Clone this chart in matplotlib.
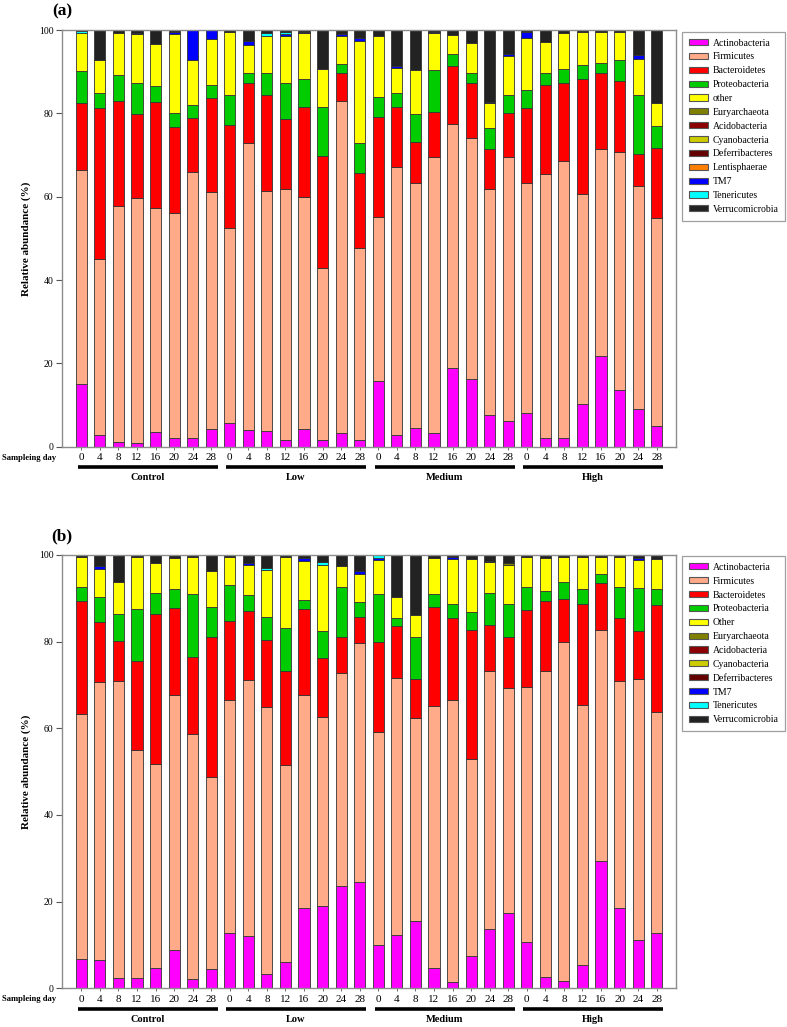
import numpy as np
import matplotlib
matplotlib.use("Agg")
import matplotlib.pyplot as plt
from matplotlib.patches import Patch

plt.rcParams['font.family'] = ['Liberation Serif', 'DejaVu Serif']

days = ["0", "4", "8", "12", "16", "20", "24", "28"]
groups = ["Control", "Low", "Medium", "High"]

# ---------------- panel (a) ----------------
a_act = [15.0, 2.8, 1.2, 1.0, 3.6, 2.2, 2.2, 4.2,
         5.6, 4.0, 3.7, 1.6, 4.2, 1.6, 3.2, 1.6,
         15.8, 2.7, 4.6, 3.2, 18.8, 16.2, 7.6, 6.2,
         8.2, 2.2, 2.2, 10.2, 21.8, 13.6, 9.0, 5.0]
a_firm = [51.4, 42.3, 56.6, 58.6, 53.7, 54.0, 63.7, 57.0,
          46.8, 69.0, 57.7, 60.3, 55.8, 41.4, 79.7, 46.2,
          39.4, 64.5, 58.8, 66.4, 58.6, 58.0, 54.2, 63.4,
          55.2, 63.2, 66.4, 50.5, 49.6, 57.2, 53.6, 50.0]
a_bact = [16.0, 36.3, 25.2, 20.2, 25.5, 20.6, 13.1, 22.4,
          24.7, 14.4, 23.0, 16.7, 21.6, 26.8, 6.7, 17.8,
          24.0, 14.4, 9.8, 10.8, 14.0, 13.2, 9.6, 10.4,
          17.8, 21.4, 18.8, 27.5, 18.2, 17.0, 7.6, 16.8]
a_prot = [7.8, 3.6, 6.2, 7.6, 3.8, 3.2, 2.9, 3.2,
          7.2, 2.4, 5.2, 8.8, 6.6, 11.8, 2.2, 7.2,
          4.8, 3.2, 6.6, 10.0, 2.8, 2.2, 5.0, 4.4,
          4.4, 2.8, 3.2, 3.4, 2.6, 5.0, 14.1, 5.2]
a_other = [9.0, 7.7, 10.0, 11.6, 10.0, 19.0, 10.9, 11.0,
           15.3, 6.5, 9.0, 11.2, 11.0, 9.0, 6.7, 24.6,
           14.6, 6.2, 10.6, 8.8, 4.7, 7.4, 6.0, 9.4,
           12.6, 7.6, 8.8, 8.0, 7.4, 6.8, 8.7, 5.6]
a_eury = [0.0] * 32
a_acido = [0.0] * 32
a_cyano = [0.0] * 32
a_defer = [0.0] * 32
a_lenti = [0.0] * 32
a_tm7 = [0.0, 0.0, 0.0, 0.4, 0.0, 0.6, 7.2, 2.2,
         0.0, 1.1, 0.0, 0.5, 0.4, 0.0, 0.5, 0.8,
         0.0, 0.3, 0.0, 0.4, 0.0, 0.0, 0.4, 0.4,
         1.4, 0.0, 0.0, 0.0, 0.0, 0.0, 0.9, 0.0]
a_tene = [0.5, 0.0, 0.0, 0.0, 0.0, 0.0, 0.0, 0.0,
          0.0, 0.0, 0.8, 0.4, 0.0, 0.0, 0.0, 0.0,
          0.0, 0.0, 0.0, 0.0, 0.0, 0.0, 0.0, 0.0,
          0.0, 0.0, 0.0, 0.0, 0.0, 0.0, 0.0, 0.0]
a_verr = [0.3, 7.3, 0.8, 0.6, 3.4, 0.4, 0.0, 0.0,
          0.4, 2.6, 0.6, 0.5, 0.4, 9.4, 1.0, 1.8,
          1.4, 8.7, 9.6, 0.4, 1.1, 3.0, 17.2, 5.8,
          0.4, 2.8, 0.6, 0.4, 0.4, 0.4, 6.1, 17.4]

# ---------------- panel (b) ----------------
b_act = [6.8, 6.5, 2.4, 2.4, 4.6, 8.8, 2.1, 4.4,
         12.7, 12.1, 3.4, 6.0, 18.6, 19.0, 23.5, 24.5,
         10.0, 12.2, 15.6, 4.6, 1.5, 7.5, 13.8, 17.3,
         10.6, 2.5, 1.6, 5.4, 29.4, 18.6, 11.2, 12.7]
b_firm = [56.5, 64.2, 68.6, 52.6, 47.2, 59.0, 56.7, 44.4,
          53.8, 59.1, 61.6, 45.6, 49.0, 43.7, 49.2, 55.3,
          49.2, 59.3, 46.7, 60.6, 65.0, 45.4, 59.5, 52.0,
          59.0, 70.8, 78.4, 60.0, 53.4, 52.4, 60.2, 51.0]
b_bact = [26.1, 13.9, 9.2, 20.6, 34.6, 19.9, 17.6, 32.2,
          18.2, 15.8, 15.4, 21.6, 19.9, 13.5, 8.4, 6.0,
          20.7, 12.1, 9.0, 22.9, 18.9, 29.8, 10.5, 11.7,
          17.6, 16.1, 9.9, 23.2, 10.7, 14.4, 11.1, 24.8]
b_prot = [3.1, 5.6, 6.2, 11.9, 4.8, 4.5, 14.6, 7.1,
          8.4, 3.8, 5.3, 10.0, 2.0, 6.3, 11.6, 3.4,
          11.1, 1.8, 9.7, 2.9, 3.4, 4.1, 7.5, 7.7,
          5.3, 2.2, 3.9, 3.5, 2.0, 7.1, 9.9, 3.7]
b_other = [7.0, 6.6, 7.3, 12.0, 7.0, 7.1, 8.5, 8.1,
           6.5, 6.9, 10.8, 16.4, 9.1, 15.2, 4.8, 6.4,
           7.8, 4.8, 5.2, 8.4, 10.3, 12.3, 7.0, 9.0,
           7.0, 7.8, 5.8, 7.5, 4.1, 7.1, 6.4, 6.8]
b_eury = [0.0] * 23 + [0.4] + [0.0] * 8
b_acido = [0.0] * 32
b_cyano = [0.0] * 32
b_defer = [0.0] * 32
b_tm7 = [0.0, 0.7, 0.0, 0.0, 0.0, 0.0, 0.0, 0.0,
         0.0, 0.4, 0.0, 0.0, 0.8, 0.0, 0.0, 0.6,
         0.4, 0.0, 0.0, 0.0, 0.4, 0.0, 0.3, 0.0,
         0.0, 0.0, 0.0, 0.0, 0.0, 0.0, 0.6, 0.0]
b_tene = [0.0, 0.0, 0.0, 0.0, 0.0, 0.0, 0.0, 0.0,
          0.0, 0.0, 0.6, 0.0, 0.0, 0.6, 0.0, 0.0,
          0.8, 0.0, 0.0, 0.0, 0.0, 0.0, 0.0, 0.0,
          0.0, 0.0, 0.0, 0.0, 0.0, 0.0, 0.0, 0.0]
b_verr = [0.5, 2.5, 6.3, 0.5, 1.8, 0.7, 0.5, 3.8,
          0.4, 1.9, 2.9, 0.4, 0.6, 1.7, 2.5, 3.8,
          0.0, 9.8, 13.8, 0.6, 0.5, 0.9, 1.4, 1.9,
          0.5, 0.6, 0.4, 0.4, 0.4, 0.4, 0.6, 1.0]

colors = {
    "Actinobacteria": "#FF00FF",
    "Firmicutes": "#FFAA88",
    "Bacteroidetes": "#FF0000",
    "Proteobacteria": "#00CC00",
    "other": "#FFFF00",
    "Other": "#FFFF00",
    "Euryarchaeota": "#808000",
    "Acidobacteria": "#8B0000",
    "Cyanobacteria": "#CCCC00",
    "Deferribacteres": "#650000",
    "Lentisphaerae": "#FF8000",
    "TM7": "#0000FF",
    "Tenericutes": "#00FFFF",
    "Verrucomicrobia": "#222222",
}

series_a = [("Actinobacteria", a_act), ("Firmicutes", a_firm), ("Bacteroidetes", a_bact),
            ("Proteobacteria", a_prot), ("other", a_other), ("Euryarchaeota", a_eury),
            ("Acidobacteria", a_acido), ("Cyanobacteria", a_cyano), ("Deferribacteres", a_defer),
            ("Lentisphaerae", a_lenti), ("TM7", a_tm7), ("Tenericutes", a_tene),
            ("Verrucomicrobia", a_verr)]
series_b = [("Actinobacteria", b_act), ("Firmicutes", b_firm), ("Bacteroidetes", b_bact),
            ("Proteobacteria", b_prot), ("Other", b_other), ("Euryarchaeota", b_eury),
            ("Acidobacteria", b_acido), ("Cyanobacteria", b_cyano), ("Deferribacteres", b_defer),
            ("TM7", b_tm7), ("Tenericutes", b_tene), ("Verrucomicrobia", b_verr)]

W, H = 787, 1027
fig = plt.figure(figsize=(W / 100, H / 100), dpi=100)

def fx(px):
    return px / W

def fy(py):
    return 1 - py / H

def draw_panel(top_px, bot_px, series, letter, legend_top_px):
    ax = fig.add_axes([fx(62), fy(bot_px), fx(676) - fx(62), (bot_px - top_px) / H])
    n = 32
    x = np.arange(n)
    bottom = np.zeros(n)
    for name, vals in series:
        v = np.array(vals, dtype=float)
        m = v > 0
        if m.any():
            ax.bar(x[m], v[m], bottom=bottom[m], width=0.6, color=colors[name],
                   edgecolor="#333333", linewidth=0.6, zorder=2)
        bottom += v
    ax.set_xlim(-1.04, 32.04)
    ax.set_ylim(0, 100)
    for s in ax.spines.values():
        s.set_color("#8c8c8c")
        s.set_linewidth(1.0)
    ax.set_yticks([0, 20, 40, 60, 80, 100])
    ax.set_yticklabels(["0", "20", "40", "60", "80", "100"], fontsize=7)
    ax.tick_params(axis="y", direction="out", length=4, width=0.8, color="#555555", pad=2)
    ax.set_xticks(x)
    ax.set_xticklabels(days * 4, fontsize=8)
    ax.tick_params(axis="x", direction="out", length=2.5, width=0.6, color="#555555", pad=2)
    ax.set_ylabel("Relative abundance (%)", fontsize=8, fontweight="bold", labelpad=6)

    trans = ax.get_xaxis_transform()
    fig.text(fx(1.5), fy(bot_px + 11), "Sampleing day", fontsize=6.2, fontweight="bold",
             ha="left", va="center")
    for g, name in enumerate(groups):
        i0 = g * 8
        i1 = g * 8 + 7
        line_y = -(20.5 / (bot_px - top_px))
        ax.plot([i0 - 0.2, i1 + 0.35], [line_y, line_y], color="black", lw=2.6,
                transform=trans, clip_on=False, solid_capstyle="butt")
        lab_y = -(31 / (bot_px - top_px))
        ax.text((i0 + i1) / 2 + 0.05, lab_y, name, fontsize=7.5, fontweight="bold",
                ha="center", va="center", transform=trans)
    fig.text(fx(62), fy(top_px - 19), letter, fontsize=12.5, fontweight="bold",
             ha="center", va="center")

    handles = [Patch(facecolor=colors[nm], edgecolor="#555555", linewidth=0.8) for nm, _ in series]
    labels = [nm for nm, _ in series]
    leg = fig.legend(handles, labels, loc="upper left",
                     bbox_to_anchor=(fx(682), fy(legend_top_px)),
                     fontsize=7, frameon=True, fancybox=False, edgecolor="#888888",
                     handlelength=2.0, handleheight=0.6, handletextpad=0.45,
                     labelspacing=0.5, borderpad=0.7, borderaxespad=0.0)
    leg.get_frame().set_linewidth(0.9)
    return ax

draw_panel(30.0, 446.7, series_a, "(a)", 31.7)
draw_panel(555.0, 988.3, series_b, "(b)", 556.0)

fig.savefig("out.png", dpi=100)
